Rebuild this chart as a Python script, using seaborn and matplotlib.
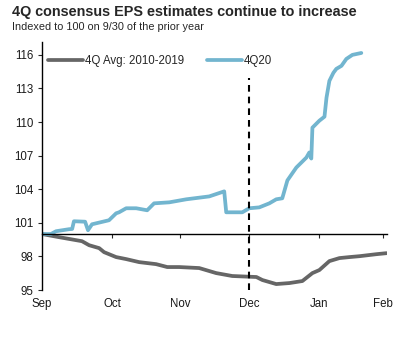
import matplotlib
matplotlib.use("Agg")
import matplotlib.pyplot as plt
import seaborn as sns
import pandas as pd

# ---- data (days since Sep 1, index value) ----
avg_days = [0, 7.6, 17.9, 21.1, 25.6, 27.8, 33.2, 37.7, 43.5, 51.1, 56.1, 61.4,
            70.4, 78.0, 85.2, 96.0, 98.7, 104.9, 110.8, 116.6, 121.1, 124.2,
            128.7, 133.2, 137.7, 142.2, 149.8, 154.3]
avg_vals = [100.0, 99.72, 99.36, 99.0, 98.74, 98.38, 97.94, 97.76, 97.49, 97.31,
            97.05, 97.05, 96.96, 96.51, 96.25, 96.16, 95.89, 95.53, 95.62, 95.80,
            96.51, 96.78, 97.58, 97.85, 97.94, 98.02, 98.20, 98.29]

q20_days = [0, 4.0, 6.3, 12.1, 13.5, 14.3, 19.3, 20.6, 22.4, 30.0, 33.2, 34.5,
            37.7, 42.2, 47.1, 50.2, 57.0, 64.6, 74.9, 81.6, 82.5, 89.7, 92.8,
            97.3, 101.8, 104.9, 107.6, 109.9, 113.9, 118.4, 119.7, 120.6, 121.1,
            124.2, 126.5, 127.4, 128.7, 130.5, 131.8, 134.1, 136.3, 139.0, 143.0]
q20_vals = [100.0, 100.0, 100.25, 100.43, 100.45, 101.14, 101.1, 100.34, 100.87,
            101.23, 101.85, 101.94, 102.30, 102.30, 102.12, 102.74, 102.83, 103.10,
            103.36, 103.81, 101.94, 101.94, 102.30, 102.38, 102.74, 103.10, 103.19,
            104.79, 105.94, 106.83, 107.28, 106.74, 109.50, 110.12, 110.48, 112.17,
            113.68, 114.40, 114.75, 115.02, 115.64, 116.00, 116.17]

series_names = ["4Q Avg: 2010-2019", "4Q20"]
month_labels = ["Sep", "Oct", "Nov", "Dec", "Jan", "Feb"]
month_pos = [0, 31.4, 61.9, 92.8, 124.2, 152.9]
y_ticks = [95, 98, 101, 104, 107, 110, 113, 116]
dec_marker = 92.8

df = pd.concat([
    pd.DataFrame({"day": avg_days, "value": avg_vals, "series": series_names[0]}),
    pd.DataFrame({"day": q20_days, "value": q20_vals, "series": series_names[1]}),
])

sns.set_style("white")
plt.rcParams["font.family"] = ["Liberation Sans", "DejaVu Sans"]

fig = plt.figure(figsize=(4.13, 3.56), dpi=100)
ax = fig.add_axes([42 / 413, 66 / 356, 345 / 413, 248 / 356])

palette = {series_names[0]: "#666666", series_names[1]: "#72B5CF"}
sns.lineplot(data=df, x="day", y="value", hue="series", palette=palette,
             linewidth=2.7, ax=ax, estimator=None, sort=False)

ax.vlines(dec_marker, 95, 113.9, colors="black", linewidth=1.5,
          linestyles=(0, (3.2, 2.4)), zorder=5)

ax.set_xlim(0, 154.5)
ax.set_ylim(95, 117.15)
ax.set_yticks(y_ticks)
ax.set_yticklabels([str(t) for t in y_ticks], fontsize=8.3, color="#1a1a1a")
ax.set_xticks(month_pos[1:])
ax.set_xticklabels([])
ax.set_xlabel("")
ax.set_ylabel("")

for s in ["top", "right"]:
    ax.spines[s].set_visible(False)
ax.spines["bottom"].set_position(("data", 100))
ax.spines["bottom"].set_color("black")
ax.spines["bottom"].set_linewidth(1.0)
ax.spines["left"].set_color("black")
ax.spines["left"].set_linewidth(1.0)
ax.tick_params(axis="y", direction="out", length=3, width=0.8, left=True, pad=3)
ax.tick_params(axis="x", direction="out", length=3, width=0.8, bottom=True)

sec = ax.secondary_xaxis("bottom")
sec.set_xticks(month_pos)
sec.set_xticklabels(month_labels, fontsize=8.3, color="#1a1a1a")
sec.tick_params(length=0, pad=6)
sec.spines["bottom"].set_visible(False)

leg = ax.legend(loc="center left", bbox_to_anchor=(0.018, 0.923), ncol=2,
                frameon=False, fontsize=8.3, handlelength=3.0, handletextpad=0.2,
                columnspacing=2.0, borderaxespad=0.0, borderpad=0.0)
for line in leg.get_lines():
    line.set_linewidth(2.7)

fig.text(12 / 413, 1 - 12 / 356, "4Q consensus EPS estimates continue to increase",
         fontsize=10.4, fontweight="bold", ha="left", va="center")
fig.text(12 / 413, 1 - 27 / 356, "Indexed to 100 on 9/30 of the prior year",
         fontsize=7.8, ha="left", va="center")

fig.savefig("out.png", dpi=100)
